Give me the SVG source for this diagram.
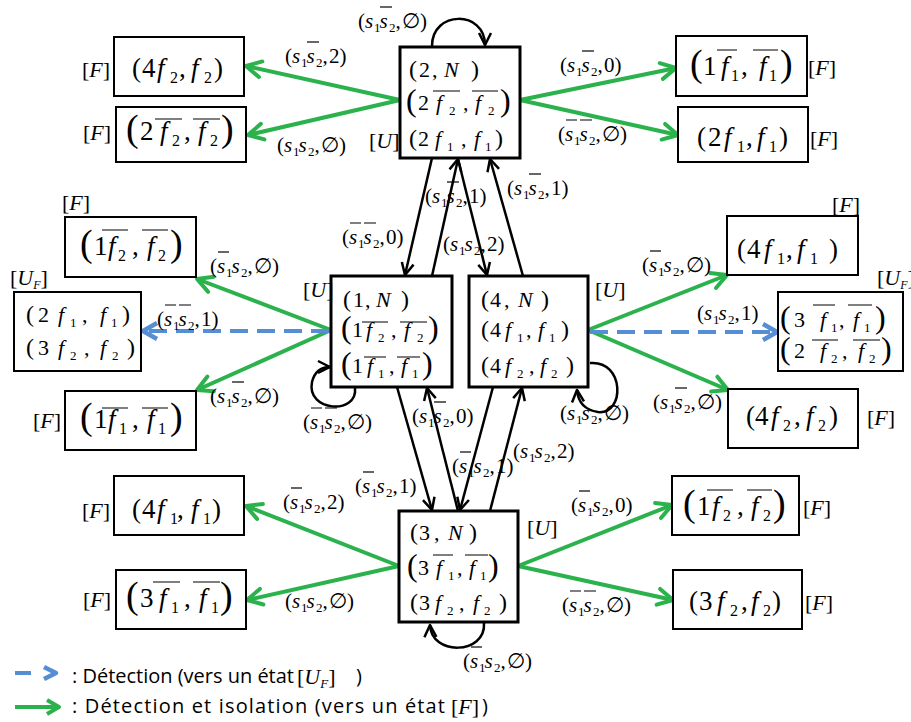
<svg xmlns="http://www.w3.org/2000/svg" width="911" height="722" viewBox="0 0 911 722">
<style>
.tx{font-family:"Liberation Serif","DejaVu Serif",serif;font-size:22px;fill:#000}
.lb{font-family:"Liberation Serif","DejaVu Serif",serif;font-size:21px;fill:#000}
.ft{font-family:"Liberation Serif","DejaVu Serif",serif;font-size:27px;fill:#000}
.i{font-style:italic}
.sb{font-size:13px}
.fsb{font-size:16px}
.p{font-size:24px}
.bp{font-size:32px}
.fbp{font-size:38px}
.ol{stroke:#000;stroke-width:1.2;fill:none}
.sbox{fill:#fff;stroke:#000;stroke-width:3}
.fbox{fill:#fff;stroke:#000;stroke-width:2}
.g{stroke:#2bb24c;stroke-width:4;fill:none}
.b{stroke:#000;stroke-width:2.5;fill:none}
.d{stroke:#558ed5;stroke-width:4;stroke-dasharray:18 9;fill:none}
.lg{font-family:"Open Sans","Noto Sans","Liberation Sans",sans-serif;font-size:20px;fill:#000}
</style>
<defs>
<marker id="mg" viewBox="0 0 20 20" refX="17" refY="10" markerWidth="20" markerHeight="20" markerUnits="userSpaceOnUse" orient="auto" overflow="visible"><path d="M2,2 L17,10 L2,18" fill="none" stroke="#2bb24c" stroke-width="4" stroke-linejoin="round" stroke-linecap="round"/></marker>
<marker id="mb" viewBox="0 0 14 14" refX="13" refY="7" markerWidth="14" markerHeight="14" markerUnits="userSpaceOnUse" orient="auto" overflow="visible"><path d="M1,1 L13,7 L1,13" fill="none" stroke="#000" stroke-width="2.5" stroke-linejoin="round"/></marker>
<marker id="md" viewBox="0 0 20 20" refX="17" refY="10" markerWidth="20" markerHeight="20" markerUnits="userSpaceOnUse" orient="auto" overflow="visible"><path d="M3,2 L17,10 L3,18" fill="none" stroke="#558ed5" stroke-width="4.5" stroke-linejoin="round"/></marker>
</defs>
<rect width="911" height="722" fill="#fff"/>

<g id="connectors">
<line class="g" x1="400" y1="100" x2="246" y2="66" marker-end="url(#mg)"/>
<line class="g" x1="400" y1="100" x2="248" y2="135" marker-end="url(#mg)"/>
<line class="g" x1="520" y1="100" x2="676" y2="68" marker-end="url(#mg)"/>
<line class="g" x1="520" y1="100" x2="678" y2="135" marker-end="url(#mg)"/>
<line class="g" x1="331" y1="330" x2="197" y2="279" marker-end="url(#mg)"/>
<line class="g" x1="331" y1="330" x2="197" y2="390" marker-end="url(#mg)"/>
<line class="g" x1="588" y1="330" x2="727" y2="275" marker-end="url(#mg)"/>
<line class="g" x1="588" y1="330" x2="728" y2="390" marker-end="url(#mg)"/>
<line class="g" x1="399" y1="566" x2="246" y2="506" marker-end="url(#mg)"/>
<line class="g" x1="399" y1="566" x2="247" y2="600" marker-end="url(#mg)"/>
<line class="g" x1="518" y1="566" x2="672" y2="505" marker-end="url(#mg)"/>
<line class="g" x1="518" y1="566" x2="673" y2="600" marker-end="url(#mg)"/>
<line class="d" x1="329" y1="331" x2="143" y2="331" marker-end="url(#md)"/>
<line class="d" x1="590" y1="332" x2="777" y2="332" marker-end="url(#md)"/>
<line class="b" x1="432" y1="158" x2="405" y2="275" marker-end="url(#mb)"/>
<line class="b" x1="432" y1="276" x2="458" y2="159" marker-end="url(#mb)"/>
<line class="b" x1="458" y1="159" x2="487" y2="275" marker-end="url(#mb)"/>
<line class="b" x1="523" y1="276" x2="490" y2="159" marker-end="url(#mb)"/>
<line class="b" x1="397" y1="387" x2="432" y2="510" marker-end="url(#mb)"/>
<line class="b" x1="458" y1="511" x2="427" y2="388" marker-end="url(#mb)"/>
<line class="b" x1="493" y1="387" x2="460" y2="510" marker-end="url(#mb)"/>
<line class="b" x1="490" y1="511" x2="522" y2="388" marker-end="url(#mb)"/>
<path class="b" d="M432,46 C432,10 485,10 485,45" marker-end="url(#mb)"/>
<path class="b" d="M355,388 C358,415 306,412 312,382 C315,370 322,367 330,367" marker-end="url(#mb)"/>
<path class="b" d="M590,363 C625,360 625,415 598,412 C585,410 578,402 577,390" marker-end="url(#mb)"/>
<path class="b" d="M484,623 C486,655 431,656 430,625" marker-end="url(#mb)"/>

<g id="edge-labels">
<text class="lb" x="358" y="28">(<tspan class="i" x="365">s</tspan><tspan class="sb" x="374" dy="4">1</tspan><tspan class="i" x="379.5" dy="-4">s</tspan><tspan class="sb" x="389" dy="4">2</tspan><tspan x="395.5" dy="-4">,</tspan><tspan x="402">∅</tspan>)</text>
<path class="ol" d="M380,7H392"/>
<text class="lb" x="285" y="63">(<tspan class="i" x="292">s</tspan><tspan class="sb" x="301" dy="4">1</tspan><tspan class="i" x="306.5" dy="-4">s</tspan><tspan class="sb" x="316" dy="4">2</tspan><tspan x="322.5" dy="-4">,</tspan><tspan x="329">2</tspan>)</text>
<path class="ol" d="M307,42H319"/>
<text class="lb" x="277" y="152">(<tspan class="i" x="284">s</tspan><tspan class="sb" x="293" dy="4">1</tspan><tspan class="i" x="298.5" dy="-4">s</tspan><tspan class="sb" x="308" dy="4">2</tspan><tspan x="314.5" dy="-4">,</tspan><tspan x="321">∅</tspan>)</text>
<text class="lb" x="560" y="72">(<tspan class="i" x="567">s</tspan><tspan class="sb" x="576" dy="4">1</tspan><tspan class="i" x="581.5" dy="-4">s</tspan><tspan class="sb" x="591" dy="4">2</tspan><tspan x="597.5" dy="-4">,</tspan><tspan x="604">0</tspan>)</text>
<path class="ol" d="M582,51H594"/>
<text class="lb" x="558" y="141">(<tspan class="i" x="565">s</tspan><tspan class="sb" x="574" dy="4">1</tspan><tspan class="i" x="579.5" dy="-4">s</tspan><tspan class="sb" x="589" dy="4">2</tspan><tspan x="595.5" dy="-4">,</tspan><tspan x="602">∅</tspan>)</text>
<path class="ol" d="M566,120H577M580,120H592"/>
<text class="lb" x="210" y="273">(<tspan class="i" x="217">s</tspan><tspan class="sb" x="226" dy="4">1</tspan><tspan class="i" x="231.5" dy="-4">s</tspan><tspan class="sb" x="241" dy="4">2</tspan><tspan x="247.5" dy="-4">,</tspan><tspan x="254">∅</tspan>)</text>
<path class="ol" d="M218,252H229"/>
<text class="lb" x="157" y="326">(<tspan class="i" x="164">s</tspan><tspan class="sb" x="173" dy="4">1</tspan><tspan class="i" x="178.5" dy="-4">s</tspan><tspan class="sb" x="188" dy="4">2</tspan><tspan x="194.5" dy="-4">,</tspan><tspan x="201">1</tspan>)</text>
<path class="ol" d="M165,305H176M179,305H191"/>
<text class="lb" x="210" y="403">(<tspan class="i" x="217">s</tspan><tspan class="sb" x="226" dy="4">1</tspan><tspan class="i" x="231.5" dy="-4">s</tspan><tspan class="sb" x="241" dy="4">2</tspan><tspan x="247.5" dy="-4">,</tspan><tspan x="254">∅</tspan>)</text>
<path class="ol" d="M232,382H244"/>
<text class="lb" x="303" y="429">(<tspan class="i" x="310">s</tspan><tspan class="sb" x="319" dy="4">1</tspan><tspan class="i" x="324.5" dy="-4">s</tspan><tspan class="sb" x="334" dy="4">2</tspan><tspan x="340.5" dy="-4">,</tspan><tspan x="347">∅</tspan>)</text>
<path class="ol" d="M311,408H322M325,408H337"/>
<text class="lb" x="342" y="244">(<tspan class="i" x="349">s</tspan><tspan class="sb" x="358" dy="4">1</tspan><tspan class="i" x="363.5" dy="-4">s</tspan><tspan class="sb" x="373" dy="4">2</tspan><tspan x="379.5" dy="-4">,</tspan><tspan x="386">0</tspan>)</text>
<path class="ol" d="M350,223H361M364,223H376"/>
<text class="lb" x="425" y="203">(<tspan class="i" x="432">s</tspan><tspan class="sb" x="441" dy="4">1</tspan><tspan class="i" x="446.5" dy="-4">s</tspan><tspan class="sb" x="456" dy="4">2</tspan><tspan x="462.5" dy="-4">,</tspan><tspan x="469">1</tspan>)</text>
<path class="ol" d="M447,182H459"/>
<text class="lb" x="443" y="251">(<tspan class="i" x="450">s</tspan><tspan class="sb" x="459" dy="4">1</tspan><tspan class="i" x="464.5" dy="-4">s</tspan><tspan class="sb" x="474" dy="4">2</tspan><tspan x="480.5" dy="-4">,</tspan><tspan x="487">2</tspan>)</text>
<text class="lb" x="507" y="195">(<tspan class="i" x="514">s</tspan><tspan class="sb" x="523" dy="4">1</tspan><tspan class="i" x="528.5" dy="-4">s</tspan><tspan class="sb" x="538" dy="4">2</tspan><tspan x="544.5" dy="-4">,</tspan><tspan x="551">1</tspan>)</text>
<path class="ol" d="M529,174H541"/>
<text class="lb" x="642" y="272">(<tspan class="i" x="649">s</tspan><tspan class="sb" x="658" dy="4">1</tspan><tspan class="i" x="663.5" dy="-4">s</tspan><tspan class="sb" x="673" dy="4">2</tspan><tspan x="679.5" dy="-4">,</tspan><tspan x="686">∅</tspan>)</text>
<path class="ol" d="M650,251H661"/>
<text class="lb" x="697" y="320">(<tspan class="i" x="704">s</tspan><tspan class="sb" x="713" dy="4">1</tspan><tspan class="i" x="718.5" dy="-4">s</tspan><tspan class="sb" x="728" dy="4">2</tspan><tspan x="734.5" dy="-4">,</tspan><tspan x="741">1</tspan>)</text>
<text class="lb" x="653" y="409">(<tspan class="i" x="660">s</tspan><tspan class="sb" x="669" dy="4">1</tspan><tspan class="i" x="674.5" dy="-4">s</tspan><tspan class="sb" x="684" dy="4">2</tspan><tspan x="690.5" dy="-4">,</tspan><tspan x="697">∅</tspan>)</text>
<path class="ol" d="M675,388H687"/>
<text class="lb" x="560" y="420">(<tspan class="i" x="567">s</tspan><tspan class="sb" x="576" dy="4">1</tspan><tspan class="i" x="581.5" dy="-4">s</tspan><tspan class="sb" x="591" dy="4">2</tspan><tspan x="597.5" dy="-4">,</tspan><tspan x="604">∅</tspan>)</text>
<text class="lb" x="412" y="423">(<tspan class="i" x="419">s</tspan><tspan class="sb" x="428" dy="4">1</tspan><tspan class="i" x="433.5" dy="-4">s</tspan><tspan class="sb" x="443" dy="4">2</tspan><tspan x="449.5" dy="-4">,</tspan><tspan x="456">0</tspan>)</text>
<path class="ol" d="M434,402H446"/>
<text class="lb" x="452" y="473">(<tspan class="i" x="459">s</tspan><tspan class="sb" x="468" dy="4">1</tspan><tspan class="i" x="473.5" dy="-4">s</tspan><tspan class="sb" x="483" dy="4">2</tspan><tspan x="489.5" dy="-4">,</tspan><tspan x="496">1</tspan>)</text>
<path class="ol" d="M460,452H471"/>
<text class="lb" x="513" y="458">(<tspan class="i" x="520">s</tspan><tspan class="sb" x="529" dy="4">1</tspan><tspan class="i" x="534.5" dy="-4">s</tspan><tspan class="sb" x="544" dy="4">2</tspan><tspan x="550.5" dy="-4">,</tspan><tspan x="557">2</tspan>)</text>
<text class="lb" x="355" y="493">(<tspan class="i" x="362">s</tspan><tspan class="sb" x="371" dy="4">1</tspan><tspan class="i" x="376.5" dy="-4">s</tspan><tspan class="sb" x="386" dy="4">2</tspan><tspan x="392.5" dy="-4">,</tspan><tspan x="399">1</tspan>)</text>
<path class="ol" d="M363,472H374"/>
<text class="lb" x="283" y="509">(<tspan class="i" x="290">s</tspan><tspan class="sb" x="299" dy="4">1</tspan><tspan class="i" x="304.5" dy="-4">s</tspan><tspan class="sb" x="314" dy="4">2</tspan><tspan x="320.5" dy="-4">,</tspan><tspan x="327">2</tspan>)</text>
<path class="ol" d="M291,488H302"/>
<text class="lb" x="285" y="608">(<tspan class="i" x="292">s</tspan><tspan class="sb" x="301" dy="4">1</tspan><tspan class="i" x="306.5" dy="-4">s</tspan><tspan class="sb" x="316" dy="4">2</tspan><tspan x="322.5" dy="-4">,</tspan><tspan x="329">∅</tspan>)</text>
<text class="lb" x="571" y="512">(<tspan class="i" x="578">s</tspan><tspan class="sb" x="587" dy="4">1</tspan><tspan class="i" x="592.5" dy="-4">s</tspan><tspan class="sb" x="602" dy="4">2</tspan><tspan x="608.5" dy="-4">,</tspan><tspan x="615">0</tspan>)</text>
<path class="ol" d="M579,491H590"/>
<text class="lb" x="562" y="612">(<tspan class="i" x="569">s</tspan><tspan class="sb" x="578" dy="4">1</tspan><tspan class="i" x="583.5" dy="-4">s</tspan><tspan class="sb" x="593" dy="4">2</tspan><tspan x="599.5" dy="-4">,</tspan><tspan x="606">∅</tspan>)</text>
<path class="ol" d="M570,591H581M584,591H596"/>
<text class="lb" x="463" y="668">(<tspan class="i" x="470">s</tspan><tspan class="sb" x="479" dy="4">1</tspan><tspan class="i" x="484.5" dy="-4">s</tspan><tspan class="sb" x="494" dy="4">2</tspan><tspan x="500.5" dy="-4">,</tspan><tspan x="507">∅</tspan>)</text>
<path class="ol" d="M471,647H482"/>
</g>
</g>

<g id="n2">
<rect class="sbox" x="400" y="47" width="120" height="111"/>
<text class="tx" y="77"><tspan class="p" x="409">(</tspan><tspan x="419">2</tspan><tspan x="432">,</tspan><tspan class="i" x="444">N</tspan><tspan class="p" x="471">)</tspan></text>
<text class="tx" y="110"><tspan class="bp" x="406" y="111">(</tspan><tspan x="418" y="110">2</tspan><tspan class="i" x="436">f</tspan><tspan class="sb" x="449" y="115">2</tspan><tspan x="463" y="110">,</tspan><tspan class="i" x="475">f</tspan><tspan class="sb" x="488" y="115">2</tspan><tspan class="bp" x="500" y="111">)</tspan></text>
<path class="ol" d="M433,91H460M472,91H498"/>
<text class="tx" y="146"><tspan class="p" x="409">(</tspan><tspan x="418">2</tspan><tspan class="i" x="435">f</tspan><tspan class="sb" x="447" y="151">1</tspan><tspan x="461" y="146">,</tspan><tspan class="i" x="474">f</tspan><tspan class="sb" x="485" y="151">1</tspan><tspan class="p" x="495" y="146">)</tspan></text>
<text class="tx" x="369" y="148">[<tspan class="i">U</tspan>]</text>
</g>

<g id="n1">
<rect class="sbox" x="331" y="276" width="121" height="111"/>
<text class="tx" y="307"><tspan class="p" x="343">(</tspan><tspan x="353">1</tspan><tspan x="365">,</tspan><tspan class="i" x="376">N</tspan><tspan class="p" x="401">)</tspan></text>
<text class="tx" y="337"><tspan class="bp" x="341" y="338">(</tspan><tspan x="352" y="337">1</tspan><tspan class="i" x="366">f</tspan><tspan class="sb" x="378" y="342">2</tspan><tspan x="391" y="337">,</tspan><tspan class="i" x="404">f</tspan><tspan class="sb" x="417" y="342">2</tspan><tspan class="bp" x="428" y="338">)</tspan></text>
<path class="ol" d="M362,322H388M400,322H427"/>
<text class="tx" y="373"><tspan class="bp" x="341" y="374">(</tspan><tspan x="352" y="373">1</tspan><tspan class="i" x="367">f</tspan><tspan class="sb" x="378" y="378">1</tspan><tspan x="389" y="373">,</tspan><tspan class="i" x="401">f</tspan><tspan class="sb" x="412" y="378">1</tspan><tspan class="bp" x="422" y="374">)</tspan></text>
<path class="ol" d="M364,357H386M397,357H420"/>
<text class="tx" x="303" y="297">[<tspan class="i">U</tspan>]</text>
</g>

<g id="n4">
<rect class="sbox" x="469" y="276" width="119" height="111"/>
<text class="tx" y="307"><tspan class="p" x="481">(</tspan><tspan x="490">4</tspan><tspan x="504">,</tspan><tspan class="i" x="518">N</tspan><tspan class="p" x="541">)</tspan></text>
<text class="tx" y="337"><tspan class="p" x="481">(</tspan><tspan x="490">4</tspan><tspan class="i" x="505">f</tspan><tspan class="sb" x="517" y="342">1</tspan><tspan x="526" y="337">,</tspan><tspan class="i" x="538">f</tspan><tspan class="sb" x="549" y="342">1</tspan><tspan class="p" x="561" y="337">)</tspan></text>
<text class="tx" y="373"><tspan class="p" x="481">(</tspan><tspan x="490">4</tspan><tspan class="i" x="505">f</tspan><tspan class="sb" x="517" y="378">2</tspan><tspan x="529" y="373">,</tspan><tspan class="i" x="540">f</tspan><tspan class="sb" x="551" y="378">2</tspan><tspan class="p" x="566" y="373">)</tspan></text>
<text class="tx" x="595" y="297">[<tspan class="i">U</tspan>]</text>
</g>

<g id="n3">
<rect class="sbox" x="399" y="511" width="119" height="111"/>
<text class="tx" y="540"><tspan class="p" x="410">(</tspan><tspan x="419">3</tspan><tspan x="434">,</tspan><tspan class="i" x="448">N</tspan><tspan class="p" x="469">)</tspan></text>
<text class="tx" y="575"><tspan class="bp" x="407" y="576">(</tspan><tspan x="418" y="575">3</tspan><tspan class="i" x="436">f</tspan><tspan class="sb" x="448" y="580">1</tspan><tspan x="457" y="575">,</tspan><tspan class="i" x="469">f</tspan><tspan class="sb" x="480" y="580">1</tspan><tspan class="bp" x="488" y="576">)</tspan></text>
<path class="ol" d="M433,555H453M465,555H488"/>
<text class="tx" y="610"><tspan class="p" x="410">(</tspan><tspan x="419">3</tspan><tspan class="i" x="435">f</tspan><tspan class="sb" x="447" y="615">2</tspan><tspan x="459" y="610">,</tspan><tspan class="i" x="473">f</tspan><tspan class="sb" x="484" y="615">2</tspan><tspan class="p" x="499" y="610">)</tspan></text>
<text class="tx" x="527" y="535">[<tspan class="i">U</tspan>]</text>
</g>

<g id="uf1">
<rect class="fbox" x="14" y="292" width="127" height="79"/>
<text class="tx" y="322"><tspan class="p" x="26">(</tspan><tspan x="38">2</tspan><tspan class="i" x="58">f</tspan><tspan class="sb" x="70" y="327">1</tspan><tspan x="82" y="322">,</tspan><tspan class="i" x="100">f</tspan><tspan class="sb" x="111" y="327">1</tspan><tspan class="p" x="122" y="322">)</tspan></text>
<text class="tx" y="355"><tspan class="p" x="26">(</tspan><tspan x="38">3</tspan><tspan class="i" x="58">f</tspan><tspan class="sb" x="70" y="360">2</tspan><tspan x="84" y="355">,</tspan><tspan class="i" x="100">f</tspan><tspan class="sb" x="112" y="360">2</tspan><tspan class="p" x="127" y="355">)</tspan></text>
<text class="tx" x="10" y="285">[<tspan class="i">U</tspan><tspan class="i" font-size="12" dy="4">F</tspan><tspan dy="-4">]</tspan></text>
</g>

<g id="uf2">
<rect class="fbox" x="778" y="292" width="125" height="79"/>
<text class="tx" y="327"><tspan class="bp" x="780" y="328">(</tspan><tspan x="794" y="327">3</tspan><tspan class="i" x="820">f</tspan><tspan class="sb" x="831" y="332">1</tspan><tspan x="839" y="327">,</tspan><tspan class="i" x="853">f</tspan><tspan class="sb" x="864" y="332">1</tspan><tspan class="bp" x="875" y="328">)</tspan></text>
<path class="ol" d="M813,305H835M848,305H872"/>
<text class="tx" y="358"><tspan class="bp" x="780" y="359">(</tspan><tspan x="794" y="358">2</tspan><tspan class="i" x="820">f</tspan><tspan class="sb" x="831" y="363">2</tspan><tspan x="842" y="358">,</tspan><tspan class="i" x="858">f</tspan><tspan class="sb" x="869" y="363">2</tspan><tspan class="bp" x="881" y="359">)</tspan></text>
<path class="ol" d="M812,340H838M853,340H880"/>
<text class="tx" x="877" y="285">[<tspan class="i">U</tspan><tspan class="i" font-size="12" dy="4">F</tspan><tspan dy="-4">]</tspan></text>
</g>

<g id="f1">
<rect class="fbox" x="114" y="37" width="130" height="59"/>
<text class="ft" y="77"><tspan x="132">(</tspan><tspan x="142">4</tspan><tspan class="i" x="157">f</tspan><tspan class="fsb" x="170" y="83">2</tspan><tspan x="179" y="77">,</tspan><tspan class="i" x="191">f</tspan><tspan class="fsb" x="204" y="83">2</tspan><tspan x="214" y="77">)</tspan></text>
<text class="tx" x="82" y="77">[<tspan class="i">F</tspan>]</text>
</g>
<g id="f2">
<rect class="fbox" x="116" y="107" width="130" height="55"/>
<text class="ft" y="140"><tspan class="fbp" x="126" y="141">(</tspan><tspan x="140" y="140">2</tspan><tspan class="i" x="160">f</tspan><tspan class="fsb" x="172" y="146">2</tspan><tspan x="184" y="140">,</tspan><tspan class="i" x="198">f</tspan><tspan class="fsb" x="210" y="146">2</tspan><tspan class="fbp" x="221" y="141">)</tspan></text>
<path class="ol" d="M155,119H182M193,119H220"/>
<text class="tx" x="83" y="140">[<tspan class="i">F</tspan>]</text>
</g>
<g id="f3">
<rect class="fbox" x="676" y="36" width="131" height="60"/>
<text class="ft" y="75"><tspan class="fbp" x="690" y="76">(</tspan><tspan x="703" y="75">1</tspan><tspan class="i" x="721">f</tspan><tspan class="fsb" x="731" y="81">1</tspan><tspan x="741" y="75">,</tspan><tspan class="i" x="759">f</tspan><tspan class="fsb" x="769" y="81">1</tspan><tspan class="fbp" x="780" y="76">)</tspan></text>
<path class="ol" d="M717,50H737M753,50H778"/>
<text class="tx" x="808" y="75">[<tspan class="i">F</tspan>]</text>
</g>
<g id="f4">
<rect class="fbox" x="678" y="107" width="130" height="55"/>
<text class="ft" y="146"><tspan x="697">(</tspan><tspan x="708">2</tspan><tspan class="i" x="724">f</tspan><tspan class="fsb" x="737" y="152">1</tspan><tspan x="746" y="146">,</tspan><tspan class="i" x="757">f</tspan><tspan class="fsb" x="769" y="152">1</tspan><tspan x="779" y="146">)</tspan></text>
<text class="tx" x="810" y="146">[<tspan class="i">F</tspan>]</text>
</g>
<g id="f5">
<rect class="fbox" x="65" y="217" width="131" height="60"/>
<text class="ft" y="255"><tspan class="fbp" x="80" y="256">(</tspan><tspan x="94" y="255">1</tspan><tspan class="i" x="108">f</tspan><tspan class="fsb" x="118" y="261">2</tspan><tspan x="132" y="255">,</tspan><tspan class="i" x="147">f</tspan><tspan class="fsb" x="158" y="261">2</tspan><tspan class="fbp" x="170" y="256">)</tspan></text>
<path class="ol" d="M102,230H128M142,230H168"/>
<text class="tx" x="62" y="210">[<tspan class="i">F</tspan>]</text>
</g>
<g id="f6">
<rect class="fbox" x="65" y="391" width="131" height="59"/>
<text class="ft" y="428"><tspan class="fbp" x="80" y="429">(</tspan><tspan x="94" y="428">1</tspan><tspan class="i" x="108">f</tspan><tspan class="fsb" x="119" y="434">1</tspan><tspan x="132" y="428">,</tspan><tspan class="i" x="147">f</tspan><tspan class="fsb" x="158" y="434">1</tspan><tspan class="fbp" x="170" y="429">)</tspan></text>
<path class="ol" d="M102,408H128M142,408H168"/>
<text class="tx" x="33" y="428">[<tspan class="i">F</tspan>]</text>
</g>
<g id="f7">
<rect class="fbox" x="727" y="216" width="131" height="59"/>
<text class="ft" y="258"><tspan x="737">(</tspan><tspan x="747">4</tspan><tspan class="i" x="764">f</tspan><tspan class="fsb" x="777" y="264">1</tspan><tspan x="786" y="258">,</tspan><tspan class="i" x="797">f</tspan><tspan class="fsb" x="810" y="264">1</tspan><tspan x="829" y="258">)</tspan></text>
<text class="tx" x="832" y="212">[<tspan class="i">F</tspan>]</text>
</g>
<g id="f8">
<rect class="fbox" x="728" y="389" width="130" height="59"/>
<text class="ft" y="425"><tspan x="746">(</tspan><tspan x="755">4</tspan><tspan class="i" x="771">f</tspan><tspan class="fsb" x="783" y="431">2</tspan><tspan x="794" y="425">,</tspan><tspan class="i" x="806">f</tspan><tspan class="fsb" x="818" y="431">2</tspan><tspan x="829" y="425">)</tspan></text>
<text class="tx" x="867" y="425">[<tspan class="i">F</tspan>]</text>
</g>
<g id="f9">
<rect class="fbox" x="114" y="476" width="130" height="59"/>
<text class="ft" y="518"><tspan x="132">(</tspan><tspan x="142">4</tspan><tspan class="i" x="157">f</tspan><tspan class="fsb" x="170" y="524">1</tspan><tspan x="177" y="518">,</tspan><tspan class="i" x="191">f</tspan><tspan class="fsb" x="203" y="524">1</tspan><tspan x="212" y="518">)</tspan></text>
<text class="tx" x="82" y="518">[<tspan class="i">F</tspan>]</text>
</g>
<g id="f10">
<rect class="fbox" x="116" y="570" width="130" height="59"/>
<text class="ft" y="607"><tspan class="fbp" x="126" y="608">(</tspan><tspan x="140" y="607">3</tspan><tspan class="i" x="159">f</tspan><tspan class="fsb" x="171" y="613">1</tspan><tspan x="184" y="607">,</tspan><tspan class="i" x="199">f</tspan><tspan class="fsb" x="211" y="613">1</tspan><tspan class="fbp" x="220" y="608">)</tspan></text>
<path class="ol" d="M153,582H180M193,582H220"/>
<text class="tx" x="83" y="607">[<tspan class="i">F</tspan>]</text>
</g>
<g id="f11">
<rect class="fbox" x="672" y="476" width="127" height="59"/>
<text class="ft" y="515"><tspan class="fbp" x="683" y="516">(</tspan><tspan x="697" y="515">1</tspan><tspan class="i" x="712">f</tspan><tspan class="fsb" x="723" y="521">2</tspan><tspan x="737" y="515">,</tspan><tspan class="i" x="751">f</tspan><tspan class="fsb" x="763" y="521">2</tspan><tspan class="fbp" x="773" y="516">)</tspan></text>
<path class="ol" d="M707,490H733M747,490H772"/>
<text class="tx" x="803" y="515">[<tspan class="i">F</tspan>]</text>
</g>
<g id="f12">
<rect class="fbox" x="673" y="570" width="129" height="59"/>
<text class="ft" y="610"><tspan x="689">(</tspan><tspan x="699">3</tspan><tspan class="i" x="717">f</tspan><tspan class="fsb" x="730" y="616">2</tspan><tspan x="741" y="610">,</tspan><tspan class="i" x="751">f</tspan><tspan class="fsb" x="763" y="616">2</tspan><tspan x="772" y="610">)</tspan></text>
<text class="tx" x="805" y="610">[<tspan class="i">F</tspan>]</text>
</g>

<g id="legend">
<path d="M15,673H31" stroke="#558ed5" stroke-width="4" fill="none"/>
<path d="M44,667L56,673L44,679" stroke="#558ed5" stroke-width="4.5" fill="none" stroke-linejoin="round"/>
<text class="lg" x="72" y="683" textLength="222" lengthAdjust="spacing">: Détection (vers un état</text>
<text class="tx" x="297" y="684" font-size="25">[<tspan class="i">U</tspan><tspan class="i" font-size="13" dy="4">F</tspan><tspan dy="-4">]</tspan></text>
<text class="lg" x="356" y="683">)</text>
<path d="M15,707H57" stroke="#2bb24c" stroke-width="4" fill="none"/>
<path d="M47,700L59,707L47,714" stroke="#2bb24c" stroke-width="4" fill="none" stroke-linejoin="round"/>
<text class="lg" x="72" y="713" textLength="373" lengthAdjust="spacing">: Détection et isolation (vers un état</text>
<text class="tx" x="451" y="714" font-size="25">[<tspan class="i">F</tspan>]</text>
<text class="lg" x="482" y="713">)</text>
</g>
</svg>
